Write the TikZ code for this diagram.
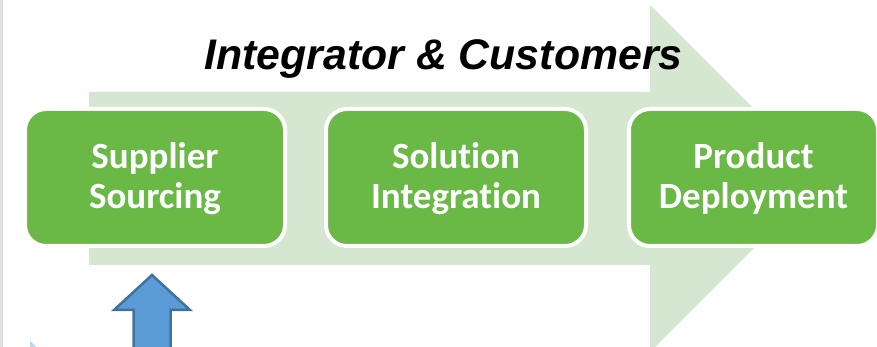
\documentclass[tikz,border=0pt]{standalone}
\usepackage{fontspec}
\setmainfont[Ligatures=NoCommon]{Carlito}
\newfontfamily\titlefont{Liberation Sans}
\definecolor{flowgreen}{HTML}{6AB845}
\definecolor{flowpale}{HTML}{D5E7D0}
\definecolor{upblue}{HTML}{5B9BD5}
\definecolor{upblueedge}{HTML}{41719C}
\definecolor{paleblue}{HTML}{BDD7EE}
\tikzset{
  stagebox/.style={rectangle, rounded corners=21pt, fill=flowgreen, draw=white,
    line width=4pt, inner sep=0pt, outer sep=0pt, minimum height=137pt},
  stagetext/.style={text=white, align=center, inner sep=0pt,
    font=\fontsize{37}{40}\selectfont\bfseries},
  headline/.style={font=\titlefont\fontsize{42.8}{46}\selectfont\bfseries\itshape, anchor=base, inner sep=0pt}
}
\begin{document}
\begin{tikzpicture}[x=1pt,y=1pt]
  \useasboundingbox (0,0) rectangle (877,347);
  \fill[white] (0,0) rectangle (877,347);
  % thin grey rule at the left edge
  \fill[black!12] (0,0) rectangle (3,347);
  % broad pale process arrow behind the stages
  \fill[flowpale] (89,255) -- (650,255) -- (650,342) -- (823.5,168.5)
    -- (650,-5) -- (650,82) -- (89,82) -- cycle;
  % heading
  \node[headline] (title) at (443.5,277) {Integrator \& Customers};
  % the three stages
  \node[stagebox, minimum width=260pt] (supply) at (155,169.5) {};
  \node[stagebox, minimum width=260pt] (integ) at (456,169.5) {};
  \node[stagebox, minimum width=249pt] (deploy) at (753.5,169.5) {};
  \node[stagetext] (supplytxt) at ([yshift=-1pt]supply.center) {Supplier\\Sourcing};
  \node[stagetext] (integtxt) at ([yshift=-1pt]integ.center) {Solution\\Integration};
  \node[stagetext] (deploytxt) at ([yshift=-1pt]deploy.center) {Product\\Deployment};
  % upward arrow under the first stage
  \coordinate (tip) at (152,72);
  \filldraw[fill=upblue, draw=upblueedge, line width=2.5pt, line join=miter]
    (tip) -- ([xshift=38pt,yshift=-35pt]tip) -- ([xshift=18.5pt,yshift=-35pt]tip)
    -- ([xshift=18.5pt,yshift=-80pt]tip) -- ([xshift=-18.5pt,yshift=-80pt]tip)
    -- ([xshift=-18.5pt,yshift=-35pt]tip) -- ([xshift=-38pt,yshift=-35pt]tip) -- cycle;
  % small pale-blue corner at the bottom left
  \fill[paleblue] (30,6) -- (36,0) -- (30,0) -- cycle;
\end{tikzpicture}
\end{document}
